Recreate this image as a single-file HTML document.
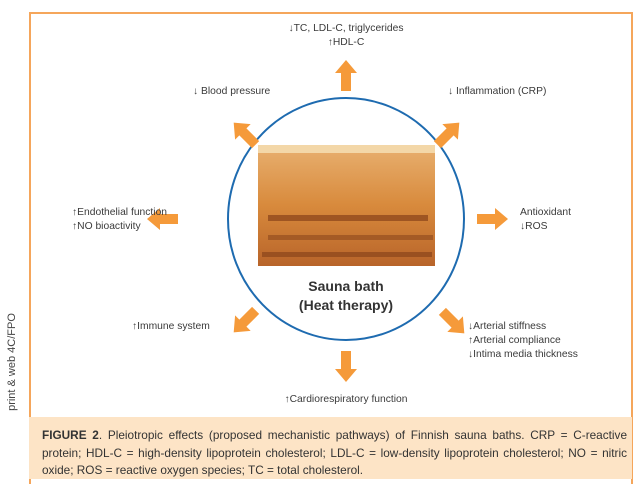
<!DOCTYPE html>
<html><head><meta charset="utf-8"><style>
body{margin:0;width:640px;height:479px;background:#fff;position:relative;overflow:hidden;font-family:"Liberation Sans",sans-serif;color:#333}
.t{position:absolute;font-size:10.3px;line-height:14px;white-space:nowrap;color:#3a3a3a}
.cap{position:absolute;left:29px;top:417px;width:603px;height:62px;background:#fde4c6}
.cap p{margin:0;position:absolute;left:13px;top:10px;width:585px;font-size:11.8px;line-height:17.5px;text-align:justify;color:#333}
</style></head><body>
<div style="position:absolute;left:29px;top:12px;width:600px;height:470px;border:2px solid #f5a65b;border-bottom:none"></div>
<div class="cap"><p><b>FIGURE 2</b>. Pleiotropic effects (proposed mechanistic pathways) of Finnish sauna baths. CRP = C-reactive protein; HDL-C = high-density lipoprotein cholesterol; LDL-C = low-density lipoprotein cholesterol; NO = nitric oxide; ROS = reactive oxygen species; TC = total cholesterol.</p></div>
<div style="position:absolute;left:-43px;top:356px;transform:rotate(-90deg);font-size:11px;color:#444;white-space:nowrap;width:110px;text-align:center">print &amp; web 4C/FPO</div>
<svg width="640" height="479" style="position:absolute;left:0;top:0">
<defs><linearGradient id="g" x1="0" y1="0" x2="0" y2="1"><stop offset="0" stop-color="#e8b070"/><stop offset="0.5" stop-color="#d88a3c"/><stop offset="1" stop-color="#b8642a"/></linearGradient>
<polygon id="a" points="0,-16 -11,-3 -5,-3 -5,15 5,15 5,-3 11,-3"/></defs>
<ellipse cx="346" cy="219" rx="118" ry="121" fill="none" stroke="#1e6bb0" stroke-width="2"/>
<rect x="258" y="145" width="177" height="121" fill="url(#g)"/>
<rect x="258" y="145" width="177" height="8" fill="#f3d7a8"/>
<rect x="268" y="215" width="160" height="6" fill="#9e5522"/>
<rect x="268" y="235" width="165" height="5" fill="#a45a25"/>
<rect x="262" y="252" width="170" height="5" fill="#9a5020"/>
<g fill="#f59a3a">
<use href="#a" transform="translate(346,76)"/>
<use href="#a" transform="translate(346,366) rotate(180)"/>
<use href="#a" transform="translate(163,219) rotate(-90)"/>
<use href="#a" transform="translate(492,219) rotate(90)"/>
<use href="#a" transform="translate(245,134) rotate(-45)"/>
<use href="#a" transform="translate(448,134) rotate(45)"/>
<use href="#a" transform="translate(245,321) rotate(-135)"/>
<use href="#a" transform="translate(453,322) rotate(135)"/>
</g>
<text x="346" y="291" text-anchor="middle" font-size="14" font-weight="bold" fill="#333">Sauna bath</text>
<text x="346" y="310" text-anchor="middle" font-size="14" font-weight="bold" fill="#333">(Heat therapy)</text>
</svg>
<div class="t" style="left:246px;top:22px;width:200px;text-align:center">↓TC, LDL-C, triglycerides<br>↑HDL-C</div>
<div class="t" style="left:193px;top:85px">↓ Blood pressure</div>
<div class="t" style="left:448px;top:85px">↓ Inflammation (CRP)</div>
<div class="t" style="left:72px;top:206px">↑Endothelial function<br>↑NO bioactivity</div>
<div class="t" style="left:520px;top:206px">Antioxidant<br>↓ROS</div>
<div class="t" style="left:132px;top:320px">↑Immune system</div>
<div class="t" style="left:468px;top:320px">↓Arterial stiffness<br>↑Arterial compliance<br>↓Intima media thickness</div>
<div class="t" style="left:246px;top:393px;width:200px;text-align:center">↑Cardiorespiratory function</div>
</body></html>
